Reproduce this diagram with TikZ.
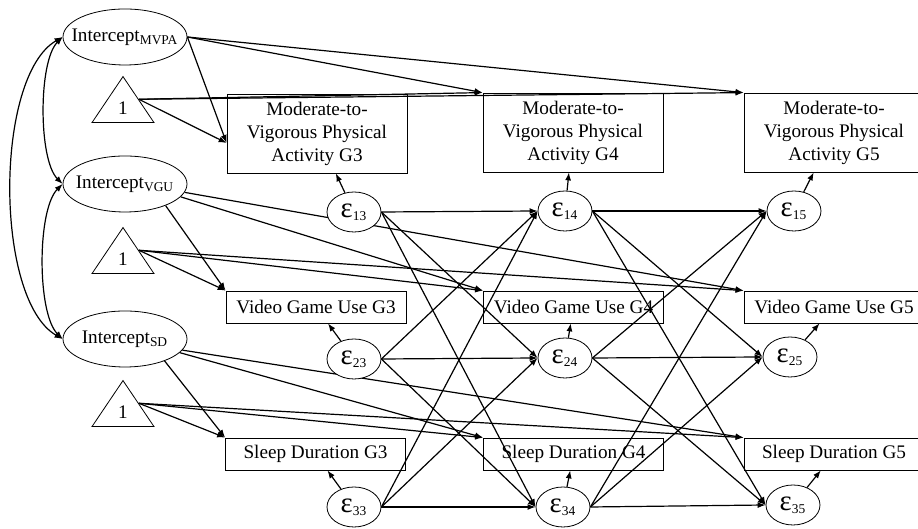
\documentclass[tikz,border=0pt]{standalone}
\usepackage{fontspec}
\setmainfont{Liberation Serif}
\usetikzlibrary{shapes.geometric, arrows.meta, backgrounds}

\begin{document}
\begin{tikzpicture}[x=0.5pt, y=0.5pt,
        font=\fontsize{9.6}{11.5}\selectfont,
        latent/.style={draw, ellipse, fill=white, minimum width=62pt, minimum height=28pt, inner xsep=-5pt, inner ysep=0pt},
        resid/.style={draw, ellipse, fill=white, minimum width=27pt, minimum height=20pt, inner sep=0pt},
        const/.style={draw, isosceles triangle, shape border rotate=90, isosceles triangle stretches, minimum width=31pt, minimum height=23pt, inner sep=0pt},
        obs/.style={draw, rectangle, minimum width=90pt, align=center, inner sep=0pt},
        reg/.style={-{Latex[length=4pt, width=3pt]}, line width=0.6pt},
        cov/.style={{Latex[length=4pt, width=3pt]}-{Latex[length=4pt, width=3pt]}, line width=0.6pt}]
        \useasboundingbox (0,0) rectangle (918,529);

        % Latent Intercepts (Left Column)
        \node[latent] (IM) at (125,492) {Intercept\textsubscript{MVPA}};
        \node[latent] (IV) at (125,345) {Intercept\textsubscript{VGU}};
        \node[latent] (IS) at (125,190) {Intercept\textsubscript{SD}};

        % Constants
        \node[const, anchor=lower side] (T1) at (123,406) {};
        \node[const, anchor=lower side] (T2) at (123,255) {};
        \node[const, anchor=lower side] (T3) at (123,102) {};
        \node (one1) at (123,421) {1};
        \node (one2) at (123,270) {1};
        \node (one3) at (123,117) {1};

        % Observed Variables (Grades 3 to 5)
        \node[obs, minimum height=39.5pt] (M3) at (317,395.5) {Moderate-to-\\Vigorous Physical\\Activity G3};
        \node[obs, minimum height=39.5pt] (M4) at (573,396.5) {Moderate-to-\\Vigorous Physical\\Activity G4};
        \node[obs, minimum height=39.5pt] (M5) at (834,396.5) {Moderate-to-\\Vigorous Physical\\Activity G5};
        \node[obs, minimum height=16pt] (V3) at (316,222) {Video Game Use G3};
        \node[obs, minimum height=16pt] (V4) at (573.5,222) {Video Game Use G4};
        \node[obs, minimum height=16pt] (V5) at (834,222) {Video Game Use G5};
        \node[obs, minimum height=16pt] (S3) at (315.5,75) {Sleep Duration G3};
        \node[obs, minimum height=16pt] (S4) at (573.5,75) {Sleep Duration G4};
        \node[obs, minimum height=16pt] (S5) at (834,75) {Sleep Duration G5};

        % Residuals
        \node[resid] (E13) at (354,317) {{\Large ε}\textsubscript{13}};
        \node[resid] (E14) at (565,318) {{\Large ε}\textsubscript{14}};
        \node[resid] (E15) at (794,318) {{\Large ε}\textsubscript{15}};
        \node[resid] (E23) at (354,170) {{\Large ε}\textsubscript{23}};
        \node[resid] (E24) at (565,171) {{\Large ε}\textsubscript{24}};
        \node[resid] (E25) at (790,172) {{\Large ε}\textsubscript{25}};
        \node[resid] (E33) at (354,22) {{\Large ε}\textsubscript{33}};
        \node[resid] (E34) at (563,22) {{\Large ε}\textsubscript{34}};
        \node[resid] (E35) at (793,24) {{\Large ε}\textsubscript{35}};

        \begin{pgfonlayer}{background}
        % Intercept Covariances
        \draw[cov] (IM.west) to[out=225, in=135, looseness=0.6] (IV.west);
        \draw[cov] (IV.west) to[out=225, in=135, looseness=0.6] (IS.west);
        \draw[cov] (IM.west) to[out=210, in=150, looseness=0.67] (IS.west);

        % Intercept Loadings
        \draw[reg] (IM.east) -- (M3.186);
        \draw[reg] (IM.east) -- (M4.north west);
        \draw[reg] (IM.east) -- (M5.north west);
        \draw[reg] (IV.-28) -- (V3.north west);
        \draw[reg] (IV.-13) -- (V4.north west);
        \draw[reg] (IV.-8) -- (V5.north west);
        \draw[reg] (IS.-29) -- (S3.north west);
        \draw[reg] (IS.-14) -- (S4.north west);
        \draw[reg] (IS.-11) -- (S5.north west);

        % Means
        \draw[reg] (T1.right side) -- (M3.186);
        \draw[reg] (T1.right side) -- (M4.north west);
        \draw[reg] (T1.right side) -- (M5.north west);
        \draw[reg] (T2.right side) -- (V3.north west);
        \draw[reg] (T2.right side) -- (V4.north west);
        \draw[reg] (T2.right side) -- (V5.north west);
        \draw[reg] (T3.right side) -- (S3.north west);
        \draw[reg] (T3.right side) -- (S4.north west);
        \draw[reg] (T3.right side) -- (S5.north west);

        % Residuals to Observed
        \draw[reg] (E13) -- (M3);
        \draw[reg] (E14) -- (M4);
        \draw[reg] (E15) -- (M5);
        \draw[reg] (E23) -- (V3);
        \draw[reg] (E24) -- (V4);
        \draw[reg] (E25) -- (V5);
        \draw[reg] (E33) -- (S3);
        \draw[reg] (E34) -- (S4);
        \draw[reg] (E35) -- (S5);

        % Cross-Lagged Paths G3 to G4
        \draw[reg] (E13.east) -- (E14.west);
        \draw[reg] (E13.east) -- (E24.west);
        \draw[reg] (E13.east) -- (E34.west);
        \draw[reg] (E23.east) -- (E14.west);
        \draw[reg] (E23.east) -- (E24.west);
        \draw[reg] (E23.east) -- (E34.west);
        \draw[reg] (E33.east) -- (E14.west);
        \draw[reg] (E33.east) -- (E24.west);
        \draw[reg] (E33.east) -- (E34.west);

        % Cross-Lagged Paths G4 to G5
        \draw[reg] (E14.east) -- (E15.west);
        \draw[reg] (E14.east) -- (E25.west);
        \draw[reg] (E14.east) -- (E35.west);
        \draw[reg] (E24.east) -- (E15.west);
        \draw[reg] (E24.east) -- (E25.west);
        \draw[reg] (E24.east) -- (E35.west);
        \draw[reg] (E34.east) -- (E15.west);
        \draw[reg] (E34.east) -- (E25.west);
        \draw[reg] (E34.east) -- (E35.west);
        \end{pgfonlayer}
    \end{tikzpicture}
\end{document}
